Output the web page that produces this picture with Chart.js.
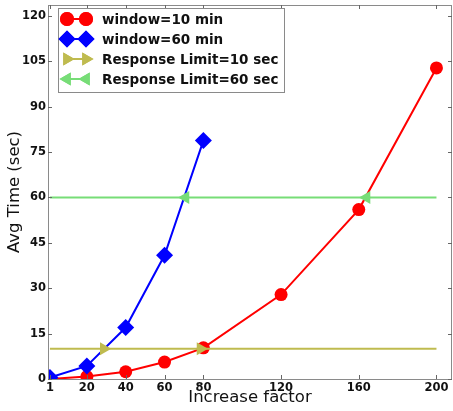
<!DOCTYPE html>
<html>
<head>
<meta charset="utf-8">
<script src="https://cdn.jsdelivr.net/npm/chart.js@4"></script>
<style>
  html, body { margin: 0; padding: 0; background: #fff; }
  #wrap { width: 453px; height: 411px; }
</style>
</head>
<body>
<div id="wrap"><canvas id="chart" width="453" height="411"></canvas></div>
<script>
const factors = [1, 20, 40, 60, 80, 120, 160, 200];
const window10 = [0, 0.8, 2.4, 5.6, 10.3, 27.9, 56, 102.8];
const window60 = [0.5, 4.3, 17.0, 40.9, 78.8];
const limit10X = [1, 28.7, 78.5, 200];
const limit60X = [1, 70.8, 164, 200];
const xTicks = [1, 20, 40, 60, 80, 120, 160, 200];
const yTicks = [0, 15, 30, 45, 60, 75, 90, 105, 120];

const RED = '#ff0000';
const BLUE = '#0000ff';
const OLIVE = '#bfbb4f';
const GREEN = '#77dd77';

const toPoints = (xs, ys) => xs.map((x, i) => ({ x, y: ys[i] }));
const flat = (xs, v) => xs.map(x => ({ x, y: v }));
// markers only on the crossing points, not the line ends
const midRadius = (xs, r) => xs.map((_, i) => (i === 0 || i === xs.length - 1 ? 0 : r));

const legendItems = [
  { label: 'window=10 min', color: RED, style: 'circle', radius: 7, rot: 0 },
  { label: 'window=60 min', color: BLUE, style: 'rectRot', radius: 8.5, rot: 0 },
  { label: 'Response Limit=10 sec', color: OLIVE, style: 'triangle', radius: 7.5, rot: 90 },
  { label: 'Response Limit=60 sec', color: GREEN, style: 'triangle', radius: 7.5, rot: -90 },
];

const noPad = s => {
  s.paddingLeft = 0; s.paddingRight = 0; s.paddingTop = 0; s.paddingBottom = 0;
};

const framePlugin = {
  id: 'frame',
  afterDraw(chart) {
    const { ctx, chartArea: a, scales } = chart;
    ctx.save();
    ctx.strokeStyle = '#8a8a8a';
    ctx.lineWidth = 1;
    ctx.strokeRect(a.left + 0.5, a.top + 0.5, a.right - a.left - 1, a.bottom - a.top);
    // inward ticks on all four sides
    ctx.strokeStyle = '#666';
    ctx.beginPath();
    xTicks.forEach(v => {
      const px = Math.round(scales.x.getPixelForValue(v)) + 0.5;
      ctx.moveTo(px, a.bottom); ctx.lineTo(px, a.bottom - 4);
      ctx.moveTo(px, a.top); ctx.lineTo(px, a.top + 4);
    });
    yTicks.forEach(v => {
      const py = Math.round(scales.y.getPixelForValue(v)) + 0.5;
      ctx.moveTo(a.left, py); ctx.lineTo(a.left + 4, py);
      ctx.moveTo(a.right, py); ctx.lineTo(a.right - 4, py);
    });
    ctx.stroke();

    // legend box with two markers per entry like matplotlib
    const bx = 58, by = 8, bw = 226, bh = 84;
    ctx.fillStyle = '#fff';
    ctx.fillRect(bx, by, bw, bh);
    ctx.strokeStyle = '#8a8a8a';
    ctx.strokeRect(bx + 0.5, by + 0.5, bw, bh);
    legendItems.forEach((it, i) => {
      const y = by + 11 + i * 20;
      ctx.strokeStyle = it.color;
      ctx.lineWidth = 2;
      ctx.beginPath();
      ctx.moveTo(67, y); ctx.lineTo(86, y);
      ctx.stroke();
      ctx.fillStyle = it.color;
      [67, 86].forEach(px => {
        Chart.helpers.drawPoint(ctx, { pointStyle: it.style, radius: it.radius, rotation: it.rot, borderWidth: 0 }, px, y);
        ctx.fill();
      });
      ctx.fillStyle = '#111';
      ctx.font = 'bold 13.5px "DejaVu Sans"';
      ctx.textBaseline = 'middle';
      ctx.fillText(it.label, 102, y + 1);
    });
    ctx.restore();
  }
};

new Chart(document.getElementById('chart'), {
  type: 'line',
  data: {
    datasets: [
      {
        label: 'window=10 min',
        data: toPoints(factors, window10),
        borderColor: RED, backgroundColor: RED, borderWidth: 2,
        pointStyle: 'circle', pointRadius: 6.5, pointBorderWidth: 0,
        order: 4,
      },
      {
        label: 'window=60 min',
        data: toPoints(factors, window60),
        borderColor: BLUE, backgroundColor: BLUE, borderWidth: 2,
        pointStyle: 'rectRot', pointRadius: 8.5, pointBorderWidth: 0,
        order: 3,
      },
      {
        label: 'Response Limit=10 sec',
        data: flat(limit10X, 10),
        borderColor: OLIVE, backgroundColor: OLIVE, borderWidth: 2,
        pointStyle: 'triangle', pointRotation: 90, pointRadius: midRadius(limit10X, 7.5), pointBorderWidth: 0,
        order: 2,
      },
      {
        label: 'Response Limit=60 sec',
        data: flat(limit60X, 60),
        borderColor: GREEN, backgroundColor: GREEN, borderWidth: 2,
        pointStyle: 'triangle', pointRotation: -90, pointRadius: midRadius(limit60X, 7.5), pointBorderWidth: 0,
        order: 1,
      },
    ],
  },
  options: {
    responsive: false,
    animation: false,
    layout: { autoPadding: false, padding: { top: 5, right: 1, left: 0, bottom: 0 } },
    plugins: { legend: { display: false }, tooltip: { enabled: false } },
    elements: { line: { tension: 0 } },
    scales: {
      x: {
        type: 'linear', min: 0, max: 208,
        afterBuildTicks: s => { s.ticks = xTicks.map(v => ({ value: v })); },
        afterFit: s => { s.height = 32; noPad(s); },
        grid: { display: false, drawTicks: false },
        border: { display: false },
        ticks: { color: '#111', font: { family: 'DejaVu Sans', weight: 'bold', size: 11.5 }, padding: 2, maxRotation: 0, autoSkip: false },
        title: { display: true, text: 'Increase factor', color: '#111', font: { family: 'DejaVu Sans', size: 16.5 }, padding: { top: 0, bottom: 3 } },
      },
      y: {
        type: 'linear', min: 0, max: 123.6,
        afterBuildTicks: s => { s.ticks = yTicks.map(v => ({ value: v })); },
        afterFit: s => { s.width = 48; noPad(s); },
        grid: { display: false, drawTicks: false },
        border: { display: false },
        ticks: { color: '#111', font: { family: 'DejaVu Sans', weight: 'bold', size: 11.5 }, padding: 2 },
        title: { display: true, text: 'Avg Time (sec)', color: '#111', font: { family: 'DejaVu Sans', size: 16.5 }, padding: { top: 5, bottom: 0 } },
      },
    },
  },
  plugins: [framePlugin],
});
</script>
</body>
</html>
